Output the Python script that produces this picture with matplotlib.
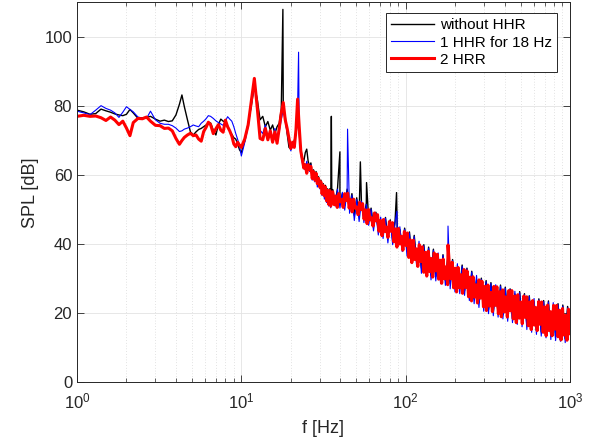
import numpy as np
import matplotlib
matplotlib.use("Agg")
import matplotlib.pyplot as plt
from matplotlib.ticker import LogLocator, NullFormatter

# ── Data ──────────────────────────────────────────────────────────────────────
# low band 1-10 Hz, irregular grid
f_lo = [1.0, 1.1, 1.2, 1.3, 1.4, 1.5, 1.6, 1.7, 1.8, 1.9, 2.0, 2.1, 2.2, 2.35,
        2.5, 2.65, 2.8, 3.0, 3.2, 3.4, 3.6, 3.8, 4.0, 4.2, 4.35, 4.5, 4.7, 4.9,
        5.1, 5.3, 5.5, 5.7, 5.9, 6.1, 6.3, 6.5, 6.75, 7.0, 7.25, 7.5, 7.75,
        8.0, 8.25, 8.5, 8.75, 9.0, 9.25, 9.5, 9.75]
black_lo = [78.8, 78.3, 77.6, 77.8, 79.1, 78.6, 78.2, 77.7, 77.4, 77.2, 77.6,
            79.0, 78.0, 76.4, 76.6, 76.7, 77.0, 76.2, 75.6, 75.9, 75.5, 75.7,
            77.4, 80.5, 83.2, 79.8, 76.0, 72.5, 71.6, 72.5, 73.2, 73.5, 74.0,
            74.5, 74.9, 75.1, 73.0, 71.6, 74.6, 76.2, 75.6, 75.4, 74.2, 72.8,
            71.8, 70.8, 70.4, 69.0, 67.3]
blue_lo = [78.5, 78.0, 77.5, 78.8, 80.1, 79.3, 78.8, 78.0, 76.7, 78.2, 79.8,
           79.0, 78.3, 76.8, 76.5, 76.4, 78.5, 76.0, 75.0, 74.7, 74.7, 74.3,
           73.6, 72.6, 72.8, 73.3, 73.6, 74.0, 74.5, 74.2, 74.0, 75.0, 75.6,
           76.3, 77.2, 77.0, 76.4, 75.7, 75.2, 74.8, 74.4, 75.6, 76.9, 76.2,
           75.6, 74.0, 72.0, 70.3, 68.5]
red_lo = [77.0, 77.3, 77.0, 77.1, 76.6, 75.8, 76.8, 75.9, 74.6, 75.6, 73.6,
          71.4, 75.2, 76.4, 76.3, 76.8, 75.6, 74.4, 74.3, 73.5, 73.6, 72.8,
          70.6, 68.9, 70.0, 70.9, 71.6, 72.1, 71.4, 71.6, 70.4, 69.8, 72.6,
          73.8, 75.3, 74.6, 72.0, 73.4, 74.6, 73.0, 72.4, 75.9, 74.0, 72.8,
          71.3, 69.0, 68.2, 69.5, 68.6]

# mid band 10-35.5 Hz, 0.5 Hz steps
f_mid = np.arange(10.0, 36.0, 0.5)
black_mid = [66.5, 70.0, 75.0, 80.0, 86.0, 82.0, 76.0, 77.0, 74.0, 75.5,
             73.0, 74.5, 72.0, 74.0, 75.0, 79.0, 78.0, 77.0, 72.0, 68.0,
             67.5, 69.0, 70.0, 72.0, 76.0, 72.0, 67.0, 65.0, 64.0, 66.5,
             67.5, 64.0, 62.5, 63.5, 60.0, 61.5, 59.5, 61.0, 58.0, 59.5,
             57.5, 58.5, 55.5, 57.5, 55.0, 57.0, 53.5, 56.0, 52.5, 56.0,
             52.0, 55.5]
blue_mid = [65.5, 69.5, 74.0, 80.5, 86.0, 80.0, 73.0, 72.0, 74.5, 71.0,
            72.5, 69.5, 73.5, 70.0, 72.5, 76.0, 79.0, 75.5, 72.5, 69.5,
            67.0, 68.5, 69.0, 72.5, 80.0, 73.0, 66.0, 63.5, 62.0, 61.5,
            64.0, 62.0, 61.0, 63.0, 58.5, 60.5, 58.0, 60.0, 56.5, 58.5,
            56.0, 57.5, 54.0, 56.5, 53.0, 56.0, 52.0, 55.0, 51.0, 55.0,
            50.5, 54.5]
red_mid = [68.0, 70.5, 74.5, 81.5, 88.0, 79.5, 70.6, 70.2, 73.5, 70.2,
           72.8, 69.5, 72.5, 69.2, 73.5, 78.0, 81.0, 76.0, 73.5, 70.5,
           67.7, 69.5, 68.0, 73.0, 82.0, 74.0, 67.0, 64.5, 62.0, 63.0,
           60.5, 63.0, 61.5, 62.5, 59.0, 61.0, 58.5, 60.5, 57.5, 59.0,
           56.5, 58.0, 54.5, 57.0, 54.0, 56.5, 52.5, 55.5, 51.5, 55.5,
           51.0, 55.0]

# high band 36-1000 Hz, log grids (black/blue coarser, red finer)
f_hi = np.geomspace(36, 1000, 100)
f_hi_red = np.geomspace(36, 1000, 160)
black_hi = [55.8, 52.0, 56.2, 51.8, 54.6, 51.2, 55.9, 50.5, 54.6, 48.3,
            53.4, 48.0, 51.2, 47.4, 51.8, 47.0, 50.4, 45.2, 49.2, 44.0,
            46.6, 43.0, 47.7, 41.8, 47.0, 41.2, 46.6, 40.5, 44.2, 39.2,
            44.6, 38.0, 43.5, 35.8, 42.5, 35.0, 39.8, 33.0, 39.8, 32.3,
            39.1, 31.0, 38.5, 30.6, 36.2, 29.9, 36.9, 29.5, 36.1, 28.5,
            35.5, 27.5, 33.0, 27.1, 33.9, 26.5, 33.0, 25.0, 32.1, 24.1,
            29.6, 23.0, 30.1, 22.1, 29.4, 21.0, 28.8, 20.4, 27.0, 20.0,
            28.1, 19.5, 27.5, 18.9, 27.0, 18.4, 25.5, 17.9, 26.2, 17.3,
            25.6, 16.5, 25.0, 15.6, 23.2, 15.0, 24.1, 14.5, 23.6, 14.0,
            23.5, 13.5, 22.0, 13.1, 22.7, 13.0, 22.3, 12.5, 21.9, 16.2]
blue_hi = [55.3, 51.0, 55.9, 50.4, 55.0, 49.8, 55.6, 48.9, 54.2, 46.8,
           52.9, 46.5, 52.4, 46.2, 51.5, 45.4, 50.1, 43.8, 48.9, 42.6,
           47.8, 41.6, 47.5, 40.3, 46.5, 39.8, 46.2, 39.0, 45.0, 37.8,
           44.3, 36.5, 43.2, 34.4, 42.2, 33.6, 40.8, 31.5, 39.5, 30.8,
           38.8, 29.6, 38.2, 29.3, 37.4, 28.5, 36.7, 28.0, 35.9, 27.0,
           35.2, 26.1, 34.3, 25.6, 33.6, 25.1, 32.8, 23.6, 31.9, 22.7,
           30.9, 21.6, 29.8, 20.5, 29.1, 19.8, 28.6, 19.2, 28.2, 18.8,
           27.8, 18.3, 27.2, 17.6, 26.8, 17.2, 26.3, 16.7, 25.9, 16.0,
           25.3, 15.2, 24.8, 14.4, 24.2, 13.8, 23.8, 13.3, 23.3, 12.8,
           23.2, 12.3, 23.0, 12.0, 22.4, 11.8, 22.0, 11.4, 21.5, 15.0]
red_hi = [55.1, 51.4, 53.9, 50.6, 54.6, 52.3, 52.9, 50.6, 54.6, 52.6,
          54.7, 50.4, 52.9, 49.3, 53.0, 50.4, 50.7, 48.5, 52.1, 50.0,
          51.7, 47.2, 49.9, 45.9, 50.0, 47.0, 47.6, 45.2, 49.0, 46.7,
          48.5, 43.7, 46.8, 42.4, 47.1, 43.6, 44.9, 41.9, 46.5, 43.7,
          46.2, 40.6, 44.4, 39.1, 44.5, 40.0, 42.2, 38.2, 43.6, 39.6,
          43.2, 36.1, 41.2, 34.6, 41.1, 35.5, 38.6, 33.5, 39.8, 34.9,
          39.2, 31.8, 37.6, 30.7, 37.9, 32.0, 35.8, 30.4, 37.4, 32.2,
          37.0, 29.8, 35.3, 28.6, 35.6, 29.9, 33.4, 28.2, 35.0, 29.9,
          34.7, 27.3, 33.0, 26.1, 33.2, 27.3, 31.1, 25.7, 32.6, 27.4,
          32.2, 24.7, 30.4, 23.5, 30.5, 24.6, 28.2, 22.9, 29.6, 24.3,
          29.2, 21.8, 27.7, 20.7, 28.1, 22.0, 26.0, 20.4, 27.7, 22.2,
          27.6, 19.8, 26.2, 18.9, 26.7, 20.3, 24.7, 18.8, 26.5, 20.6,
          26.5, 18.3, 24.9, 17.2, 25.3, 18.5, 23.2, 16.9, 24.9, 18.7,
          24.7, 16.3, 23.2, 15.2, 23.6, 16.5, 21.6, 14.9, 23.3, 16.7,
          23.2, 14.4, 21.8, 13.4, 22.3, 14.9, 20.4, 13.4, 22.2, 15.3,
          22.2, 13.1, 20.8, 12.2, 21.3, 13.6, 19.3, 12.1, 21.1, 14.0]

# narrow tonal peaks
spk_f_black = [17.9, 35.3, 39.8, 53.0, 57.8, 88.0]
spk_v_black = [108.0, 77.0, 66.7, 63.8, 57.8, 54.9]
spk_f_blue = [22.3, 44.3, 88.5, 181.0]
spk_v_blue = [95.6, 73.3, 49.5, 45.2]
spk_f_red = [181.0]
spk_v_red = [39.7]

labels = ["without HHR", "1 HHR for 18 Hz", "2 HRR"]


def build(lo, mid, fh, hi, sf, sv):
    f = np.concatenate([f_lo, f_mid, fh, sf])
    v = np.concatenate([lo, mid, hi, sv])
    order = np.argsort(f)
    return f[order], v[order]


plt.rcParams["font.family"] = ["Liberation Sans", "DejaVu Sans"]
plt.rcParams["mathtext.default"] = "regular"

fig = plt.figure(figsize=(6.01, 4.48), dpi=100)
ax = fig.add_axes([77 / 601, 66 / 448, 493 / 601, 379.5 / 448])

fb, vb = build(black_lo, black_mid, f_hi, black_hi, spk_f_black, spk_v_black)
fu, vu = build(blue_lo, blue_mid, f_hi, blue_hi, spk_f_blue, spk_v_blue)
fr, vr = build(red_lo, red_mid, f_hi_red, red_hi, spk_f_red, spk_v_red)

ax.semilogx(fb, vb, color="black", lw=1.0, label=labels[0])
ax.semilogx(fu, vu, color="#0000ff", lw=0.8, label=labels[1])
ax.semilogx(fr, vr, color="#ff0000", lw=2.2, label=labels[2])

ax.set_xlim(1, 1000)
ax.set_ylim(0, 110)
ax.set_yticks([0, 20, 40, 60, 80, 100])
ax.xaxis.set_major_locator(LogLocator(base=10, numticks=10))
ax.xaxis.set_minor_locator(LogLocator(base=10, subs=np.arange(2, 10), numticks=10))
ax.xaxis.set_minor_formatter(NullFormatter())

ax.grid(True, which="major", color="#e3e3e3", lw=0.6, ls="-")
ax.grid(True, which="minor", axis="x", color="#c8c8c8", lw=0.5, ls=(0, (1, 3)))
ax.set_axisbelow(True)

ax.tick_params(which="both", direction="in", top=True, right=True,
               colors="#262626", labelsize=12)
ax.tick_params(which="major", length=5, width=0.6)
ax.tick_params(which="minor", length=3, width=0.5)
ax.tick_params(axis="x", which="major", pad=7)
for s in ax.spines.values():
    s.set_color("#262626")
    s.set_linewidth(0.7)

ax.set_xlabel("f [Hz]", fontsize=13, color="#262626", labelpad=6)
ax.set_ylabel("SPL [dB]", fontsize=13, color="#262626", labelpad=4)

leg = ax.legend(loc="upper right", bbox_to_anchor=(0.974, 0.972),
                borderaxespad=0, fontsize=11, handlelength=2.8,
                handletextpad=0.4, labelspacing=0.2, borderpad=0.35,
                fancybox=False, framealpha=1, edgecolor="#262626")
leg.get_frame().set_linewidth(0.7)

fig.savefig("out.png", dpi=100)
